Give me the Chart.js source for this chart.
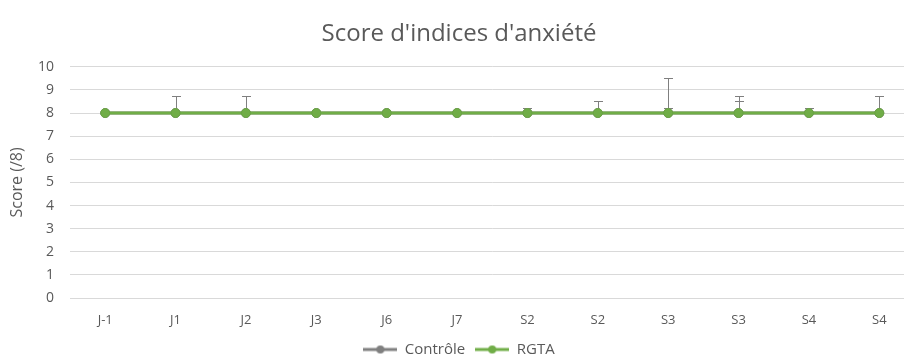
<!DOCTYPE html>
<html lang="fr">
<head>
<meta charset="utf-8">
<title>Score d'indices d'anxiété</title>
<script src="https://cdn.jsdelivr.net/npm/chart.js@4.4.0/dist/chart.umd.min.js"></script>
<style>
  html, body { margin: 0; padding: 0; background: #fff; overflow: hidden; }
  #wrap { position: relative; width: 920px; height: 363px; }
</style>
</head>
<body>
<div id="wrap"><canvas id="anxiete"></canvas></div>
<script>
// catégories (jours / semaines)
var labels = ['J-1', 'J1', 'J2', 'J3', 'J6', 'J7', 'S2', 'S2', 'S3', 'S3', 'S4', 'S4'];

// scores moyens
var controle = [8, 8, 8, 8, 8, 8, 8, 8, 8, 8, 8, 8];
var rgta     = [8, 8, 8, 8, 8, 8, 8, 8, 8, 8, 8, 8];

// barres d'erreur (positives uniquement)
var controleErr = [0, 0.75, 0.75, 0, 0, 0, 0.2, 0.5, 1.5, 0.75, 0.2, 0.75];
var rgtaErr     = [0, 0, 0, 0, 0, 0, 0, 0, 0.2, 0.5, 0, 0];

var yTicks = { min: 0, max: 10, step: 1 };

var GREY = '#7f7f7f';
var GREEN = '#70ad47';
var TEXT = '#595959';
var FONT = '"Open Sans", sans-serif';

/** petite icône de légende : trait + rond */
function legendIcon(color) {
  var c = document.createElement('canvas');
  c.width = 34; c.height = 12;
  var g = c.getContext('2d');
  g.strokeStyle = color;
  g.lineWidth = 3;
  g.beginPath(); g.moveTo(0, 6); g.lineTo(34, 6); g.stroke();
  g.fillStyle = color;
  g.beginPath(); g.arc(17, 6, 4, 0, Math.PI * 2); g.fill();
  return c;
}

/** barres d'erreur dessinées via les échelles du graphique */
var errorBars = {
  id: 'errorBars',
  beforeDatasetsDraw: function(chart) {
    var ctx = chart.ctx;
    var y = chart.scales.y;
    ctx.save();
    ctx.strokeStyle = GREY;
    ctx.lineWidth = 1;
    chart.data.datasets.forEach(function(ds, di) {
      var meta = chart.getDatasetMeta(di);
      if (!ds.errors) return;
      meta.data.forEach(function(pt, i) {
        var e = ds.errors[i];
        if (!e) return;
        var x = Math.round(pt.x) + 0.5;
        var y0 = y.getPixelForValue(ds.data[i]);
        var y1 = Math.round(y.getPixelForValue(ds.data[i] + e)) + 0.5;
        ctx.beginPath();
        ctx.moveTo(x, y0); ctx.lineTo(x, y1);
        ctx.moveTo(x - 4.5, y1); ctx.lineTo(x + 4.5, y1);
        ctx.stroke();
      });
    });
    ctx.restore();
  }
};

new Chart(document.getElementById('anxiete'), {
  type: 'line',
  data: {
    labels: labels,
    datasets: [
      {
        label: 'Contrôle',
        data: controle,
        errors: controleErr,
        order: 1,
        borderColor: GREY,
        backgroundColor: GREY,
        borderWidth: 3,
        pointRadius: 4.5,
        pointBorderWidth: 1,
        tension: 0
      },
      {
        label: 'RGTA',
        data: rgta,
        errors: rgtaErr,
        order: 0,
        borderColor: GREEN,
        backgroundColor: GREEN,
        pointBorderColor: '#6aa444',
        borderWidth: 3,
        pointRadius: 4.5,
        pointBorderWidth: 1,
        tension: 0
      }
    ]
  },
  options: {
    responsive: true,
    maintainAspectRatio: false,
    animation: false,
    // la légende déborde un peu en bas (marge interne de 10 px de Chart.js)
    layout: { padding: { left: 0, right: 2, top: 0, bottom: -4 } },
    plugins: {
      title: {
        display: true,
        text: "Score d'indices d'anxiété",
        color: TEXT,
        font: { family: FONT, size: 24, weight: 'normal' },
        padding: { top: 20, bottom: 18 }
      },
      legend: {
        position: 'bottom',
        labels: {
          color: TEXT,
          font: { family: FONT, size: 15 },
          usePointStyle: true,
          pointStyleWidth: 34,
          boxHeight: 12,
          padding: 10,
          generateLabels: function(chart) {
            return chart.data.datasets.map(function(ds, i) {
              return {
                text: ds.label,
                fontColor: TEXT,
                pointStyle: legendIcon(ds.borderColor),
                lineWidth: 0,
                strokeStyle: 'transparent',
                fillStyle: ds.borderColor,
                datasetIndex: i
              };
            });
          }
        }
      },
      tooltip: { enabled: false }
    },
    scales: {
      x: {
        offset: true,
        grid: { display: false },
        border: { display: true, color: '#d9d9d9' },
        ticks: { color: TEXT, font: { family: FONT, size: 13 }, padding: 6, maxRotation: 0, autoSkip: false },
        afterFit: function(s) { s.height = 34; }
      },
      y: {
        min: yTicks.min,
        max: yTicks.max,
        ticks: { stepSize: yTicks.step, color: TEXT, font: { family: FONT, size: 14 }, padding: 16 },
        grid: { color: '#d9d9d9', drawTicks: false },
        border: { display: false },
        title: {
          display: true,
          text: 'Score (/8)',
          color: TEXT,
          font: { family: FONT, size: 16 },
          padding: { top: 8, bottom: 0 }
        },
        afterFit: function(s) { s.width = 70; }
      }
    }
  },
  plugins: [errorBars]
});
</script>
</body>
</html>
